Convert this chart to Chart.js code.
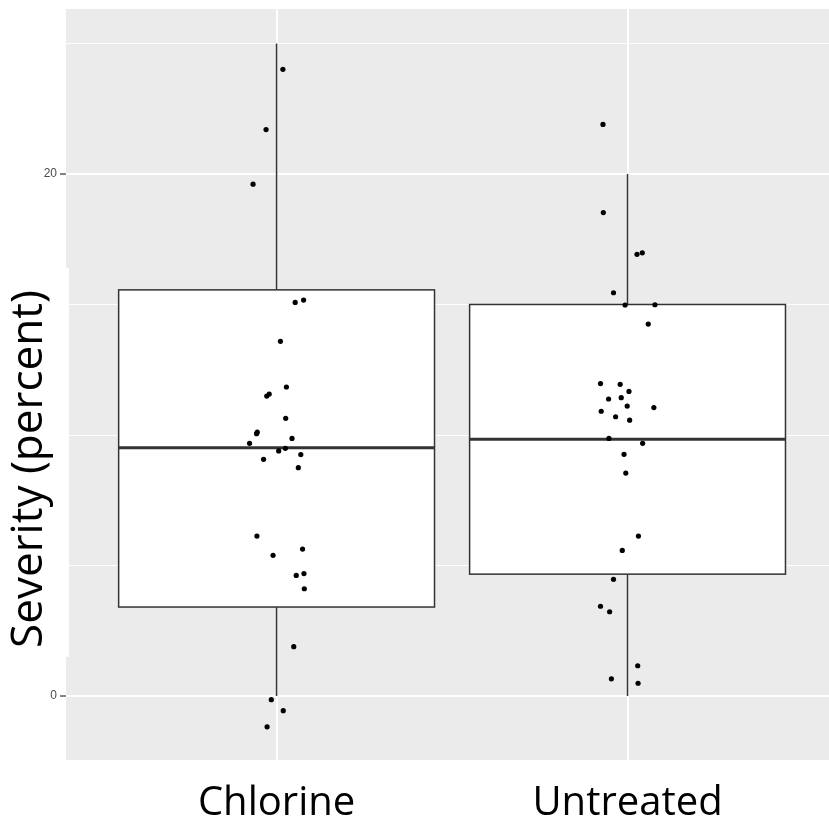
<!DOCTYPE html>
<html>
<head>
<meta charset="utf-8">
<script src="https://cdn.jsdelivr.net/npm/chart.js@4.4.0/dist/chart.umd.min.js"></script>
<style>
  body { margin: 0; background: #ffffff; overflow: hidden; }
  #wrap { width: 829px; height: 825px; }
  canvas { display: block; }
</style>
</head>
<body>
<div id="wrap"><canvas id="chart" width="829" height="825"></canvas></div>
<script>
// categories and their positions on the x axis
const categories = ['Chlorine', 'Untreated'];
const catPositions = [1, 2];

// box statistics per category: lower whisker, Q1, median, Q3, upper whisker
const whiskerLow = [0, 0];
const q1 = [3.41, 4.67];
const median = [9.51, 9.84];
const q3 = [15.56, 15.0];
const whiskerHigh = [25.0, 20.0];

// jittered observations
const chlorineX = [1.018, 0.970, 0.933, 1.053, 1.077, 1.011, 1.028, 0.979, 0.972, 1.026,
                   0.945, 0.943, 1.044, 0.923, 1.025, 1.006, 1.069, 0.963, 1.062, 0.944,
                   1.074, 0.990, 1.056, 1.078, 1.079, 1.049, 0.985, 1.019, 0.973];
const chlorineY = [24.01, 21.70, 19.61, 15.08, 15.17, 13.59, 11.84, 11.57, 11.49, 10.64,
                   10.11, 10.05, 9.87, 9.68, 9.49, 9.39, 9.25, 9.07, 8.75, 6.13,
                   5.63, 5.39, 4.62, 4.69, 4.11, 1.89, -0.14, -0.56, -1.18];
const untreatedX = [1.930, 1.931, 2.027, 2.042, 1.960, 1.993, 2.078, 2.059, 1.923, 1.979,
                    2.004, 1.946, 1.982, 1.999, 2.075, 1.925, 1.966, 2.006, 1.947, 2.043,
                    1.990, 1.995, 2.031, 1.985, 1.960, 1.923, 1.949, 2.029, 1.954, 2.030];
const untreatedY = [21.90, 18.52, 16.92, 16.98, 15.45, 14.98, 14.99, 14.25, 11.97, 11.94,
                    11.67, 11.38, 11.43, 11.11, 11.05, 10.91, 10.70, 10.57, 9.87, 9.68,
                    9.26, 8.54, 6.13, 5.58, 4.47, 3.44, 3.23, 1.16, 0.66, 0.49];

// y axis grid values and the ones that get labels
const yGrid = [0, 5, 10, 15, 20, 25];
const yLabels = [0, 20];
const yTitle = 'Severity (percent)';

function toPoints(xs, ys) {
    return xs.map((x, i) => ({ x: x, y: ys[i] }));
}

// grey panel background
const panelBackground = {
    id: 'panelBackground',
    beforeDraw(chart) {
        const { ctx, chartArea } = chart;
        ctx.save();
        ctx.fillStyle = '#EBEBEB';
        ctx.fillRect(chartArea.left, chartArea.top, chartArea.right - chartArea.left, chartArea.bottom - chartArea.top);
        ctx.restore();
    }
};

// box and whiskers, drawn through the chart scales
const boxPlot = {
    id: 'boxPlot',
    beforeDatasetsDraw(chart) {
        const { ctx, scales: { x, y } } = chart;
        ctx.save();
        ctx.strokeStyle = '#333333';
        catPositions.forEach((pos, i) => {
            const cx = x.getPixelForValue(pos);
            const left = x.getPixelForValue(pos - 0.45);
            const right = x.getPixelForValue(pos + 0.45);
            const yLow = y.getPixelForValue(whiskerLow[i]);
            const yQ1 = y.getPixelForValue(q1[i]);
            const yMed = y.getPixelForValue(median[i]);
            const yQ3 = y.getPixelForValue(q3[i]);
            const yHigh = y.getPixelForValue(whiskerHigh[i]);

            ctx.lineWidth = 1.5;
            ctx.beginPath();
            ctx.moveTo(cx, yHigh);
            ctx.lineTo(cx, yQ3);
            ctx.moveTo(cx, yQ1);
            ctx.lineTo(cx, yLow);
            ctx.stroke();

            ctx.fillStyle = '#ffffff';
            ctx.fillRect(left, yQ3, right - left, yQ1 - yQ3);
            ctx.strokeRect(left, yQ3, right - left, yQ1 - yQ3);

            ctx.lineWidth = 3;
            ctx.beginPath();
            ctx.moveTo(left, yMed);
            ctx.lineTo(right, yMed);
            ctx.stroke();
        });
        ctx.restore();
    }
};

// y title sits on a white label box, lower than the panel centre
const yTitlePlugin = {
    id: 'yTitlePlugin',
    afterDraw(chart) {
        const ctx = chart.ctx;
        ctx.save();
        ctx.fillStyle = '#ffffff';
        ctx.fillRect(0, 268, 69, 389);
        ctx.translate(42, 469);
        ctx.rotate(-Math.PI / 2);
        ctx.fillStyle = '#000000';
        ctx.font = '44px "Open Sans"';
        ctx.textAlign = 'center';
        ctx.textBaseline = 'alphabetic';
        ctx.fillText(yTitle, 0, 0);
        ctx.restore();
    }
};

new Chart(document.getElementById('chart').getContext('2d'), {
    type: 'scatter',
    data: {
        datasets: [
            {
                label: categories[0],
                data: toPoints(chlorineX, chlorineY),
                backgroundColor: '#000000',
                borderWidth: 0,
                pointRadius: 2.6
            },
            {
                label: categories[1],
                data: toPoints(untreatedX, untreatedY),
                backgroundColor: '#000000',
                borderWidth: 0,
                pointRadius: 2.6
            }
        ]
    },
    options: {
        responsive: false,
        animation: false,
        events: [],
        layout: { autoPadding: false, padding: { top: 9, right: 0, bottom: 0, left: 0 } },
        plugins: {
            legend: { display: false },
            tooltip: { enabled: false }
        },
        scales: {
            x: {
                type: 'linear',
                min: 0.4,
                max: 2.574,
                afterBuildTicks: function(scale) {
                    scale.ticks = catPositions.map(v => ({ value: v }));
                },
                afterFit: function(scale) {
                    scale.height = 65;
                    scale.paddingLeft = 0;
                    scale.paddingRight = 0;
                },
                border: { display: false },
                grid: {
                    color: '#ffffff',
                    lineWidth: 2,
                    drawTicks: false
                },
                ticks: {
                    padding: 20,
                    maxRotation: 0,
                    autoSkip: false,
                    color: '#000000',
                    font: { family: 'Open Sans', size: 40 },
                    callback: function(value) {
                        const i = catPositions.indexOf(value);
                        return i >= 0 ? categories[i] : '';
                    }
                }
            },
            y: {
                min: -2.45,
                max: 26.32,
                afterBuildTicks: function(scale) {
                    scale.ticks = yGrid.map(v => ({ value: v }));
                },
                afterFit: function(scale) {
                    scale.width = 66;
                    scale.paddingTop = 0;
                    scale.paddingBottom = 0;
                },
                border: { display: false },
                grid: {
                    color: '#ffffff',
                    lineWidth: function(context) {
                        return yLabels.includes(context.tick.value) ? 2 : 1;
                    },
                    tickColor: function(context) {
                        return yLabels.includes(context.tick.value) ? '#333333' : 'rgba(0,0,0,0)';
                    },
                    tickLength: 6,
                    tickWidth: 1.2
                },
                ticks: {
                    padding: 3,
                    autoSkip: false,
                    color: '#4D4D4D',
                    font: { family: 'Liberation Sans', size: 12 },
                    callback: function(value) {
                        return yLabels.includes(value) ? String(value) : '';
                    }
                }
            }
        }
    },
    plugins: [panelBackground, boxPlot, yTitlePlugin]
});
</script>
</body>
</html>
